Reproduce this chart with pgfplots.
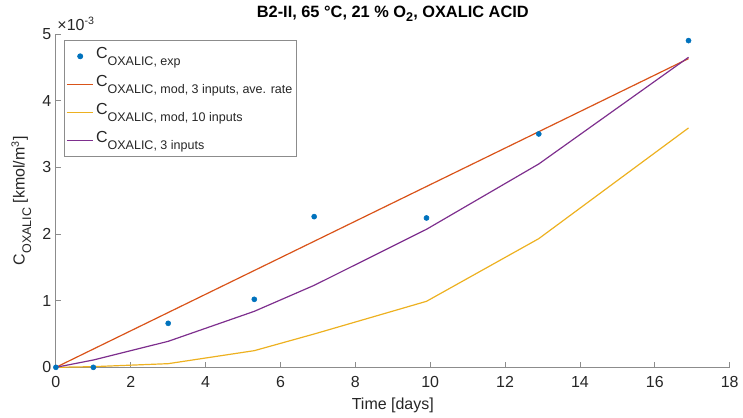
\documentclass[border=0pt]{standalone}
\usepackage{pgfplots}
\pgfplotsset{compat=1.18}
\usepackage{fontspec}
\setmainfont{Liberation Sans}

\definecolor{mblue}{rgb}{0,0.447,0.741}
\definecolor{morange}{rgb}{0.85,0.325,0.098}
\definecolor{myellow}{rgb}{0.929,0.694,0.125}
\definecolor{mpurple}{rgb}{0.494,0.184,0.556}
\definecolor{axgray}{gray}{0.55}
\definecolor{txtgray}{gray}{0.15}

% C with a lowered MATLAB-style subscript
\newcommand\csub[1]{C\raisebox{-4.8pt}{\fontsize{9.4}{10}\selectfont #1}}

\pgfplotsset{
  linelegend/.style={legend image code/.code={\draw[##1, line width=0.9pt] (0pt,0pt) -- (20pt,0pt);}},
  marklegend/.style={legend image code/.code={\draw[mark repeat=2,mark phase=2,##1] plot coordinates {(0pt,0pt)(10pt,0pt)(20pt,0pt)};}},
}

\begin{document}
\begin{tikzpicture}
\begin{axis}[
  scale only axis, width=506.25pt, height=250.5pt,
  xmin=0, xmax=18, ymin=0, ymax=0.005,
  axis lines=left,
  axis line style={-, draw=axgray, line width=0.6pt},
  tick style={draw=axgray, line width=0.6pt},
  tick align=inside, major tick length=4pt,
  xtick={0,2,...,18},
  ytick={0,0.001,0.002,0.003,0.004,0.005},
  yticklabels={0,1,2,3,4,5},
  scaled y ticks=false,
  /pgf/number format/assume math mode=true,
  ticklabel style={font=\fontsize{12}{14}\selectfont, text=txtgray},
  xticklabel style={yshift=-3.5pt},
  xlabel={Time [days]},
  xlabel style={at={(rel axis cs:0.5,0)}, anchor=center, yshift=-28.5pt,
    font=\fontsize{12}{14}\selectfont, text=txtgray},
  ylabel={\csub{OXALIC} [kmol/m\textsuperscript{3}]},
  ylabel style={at={(rel axis cs:0,0.5)}, anchor=center, yshift=26pt,
    font=\fontsize{12}{14}\selectfont, text=txtgray},
  title={\bfseries B2-II, 65 °C, 21 \% O\raisebox{-3.3pt}{\fontsize{9.5}{10}\selectfont 2}, OXALIC ACID},
  title style={at={(rel axis cs:0.5,1)}, anchor=center, yshift=9pt,
    font=\fontsize{12.3}{14}\selectfont, text=black},
  legend style={at={(rel axis cs:0,1)}, anchor=north west, shift={(6pt,-4.5pt)},
    draw=axgray, line width=0.6pt, fill=white,
    font=\fontsize{12}{14}\selectfont, text=txtgray,
    inner xsep=1.5pt, inner ysep=1.5pt, row sep=0pt,
    nodes={inner sep=1.5pt, text height=11pt, text depth=7pt}},
  legend cell align=left,
  clip=false,
]
\addplot[only marks, mark=*, mark size=1.9pt, color=mblue, marklegend]
  coordinates {(0,0) (1,0) (3,0.00066) (5.3,0.00102) (6.9,0.00226)
               (9.9,0.00224) (12.9,0.0035) (16.9,0.0049)};
\addlegendentry{\csub{OXALIC, exp}}

\addplot[color=morange, line width=0.9pt, linelegend]
  coordinates {(0,0) (16.9,0.00463)};
\addlegendentry{\csub{OXALIC, mod, 3 inputs, ave. rate}}

\addplot[color=myellow, line width=0.9pt, linelegend]
  coordinates {(0,0) (1,0.00001) (3,0.000055) (5.3,0.00025) (6.9,0.0005)
               (9.9,0.00099) (12.9,0.00193) (16.9,0.00359)};
\addlegendentry{\csub{OXALIC, mod, 10 inputs}}

\addplot[color=mpurple, line width=0.9pt, linelegend]
  coordinates {(0,0) (1,0.00011) (3,0.00039) (5.3,0.00084) (6.9,0.00123)
               (9.9,0.00207) (12.9,0.00305) (16.9,0.00465)};
\addlegendentry{\csub{OXALIC, 3 inputs}}

\node[anchor=base west, inner sep=0pt, text=txtgray, font=\fontsize{12}{14}\selectfont]
  at (rel axis cs:0,1) [shift={(1pt,2.5pt)}] {×10\textsuperscript{-3}};
\end{axis}
\path (current axis.south west) ++(-42pt,-36pt) rectangle ++(557.25pt,312pt);
\end{tikzpicture}
\end{document}
